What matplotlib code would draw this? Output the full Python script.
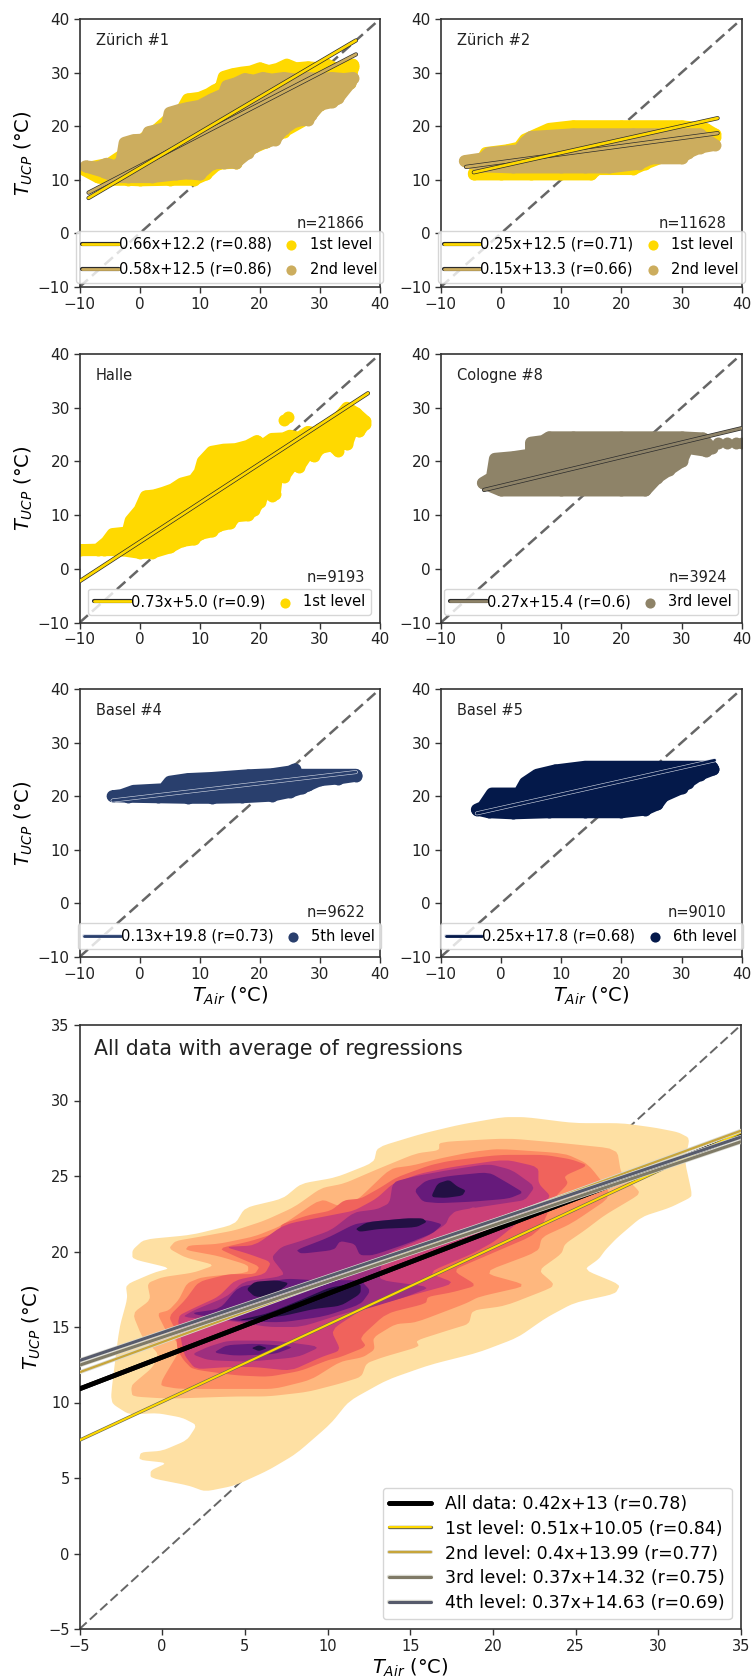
"""
Six station scatter panels with regression lines, and one density panel of all data.
Clouds and density bands are outlines read off the picture.
"""
import numpy as np
import matplotlib; matplotlib.use("Agg")
import matplotlib.pyplot as plt
import matplotlib.patheffects as pe

W, H = 751, 1677

# ── Colours ───────────────────────────────────────────────────────────────────
GOLD = "#ffd900"
TAN = "#ccad5e"
TAUPE = "#8e8368"
NAVY = "#293f6d"
DEEP = "#04194a"
DASH = "#666666"

# ── Scatter clouds: upper then lower outline as (x, y) ─────────────────────────
z1_first_up = [(-9.5,12),(-7,12.6),(-5,13),(-3,14.5),(-1,16),(1,18),(3,19.5),(5,21.5),(7,23),(8,25),(10,25.3),(11.5,26),(12.5,26.7),(13.5,27.2),(14,29.2),(15.5,29.7),(17,30),(18.5,30.2),(20,30.8),(21.5,30.3),(23,30.7),(24.5,31.5),(26,30.8),(28,31),(30,30.8),(31,31.6),(32.5,30.8),(34,31),(35.5,31.5)]
z1_first_lo = [(35.5,31),(35,28),(32,25),(30,24),(28,21.5),(24,19),(21,17),(18,15.5),(16,13.2),(13,13),(11,11),(9,10),(5,10),(0,9.9),(-2,10),(-5,10),(-7,10.5)]
z1_second_up = [(-9,12.5),(-7,12.3),(-5.5,13),(-4,12.5),(-3,13.5),(-2.5,16.9),(-1,17.4),(0.5,17.5),(1,17.6),(1.5,18.9),(3,19.3),(4.5,19.8),(5,22.5),(6.5,23),(8,23.4),(10,23.8),(12,25),(14,26),(14.5,27.5),(16,28),(17.5,28.8),(19,28.5),(20.5,29),(22,28.7),(24,29),(26,28.7),(28,29),(30,28.8),(32,29),(34,28.8),(35.5,29)]
z1_second_lo = [(35,28),(33,25.2),(32,24.5),(30,24),(28.5,22),(28,21.2),(26,21),(24,19.5),(22.5,17.5),(21,17),(19,16.2),(18,15),(16,13.2),(14,13.2),(12,13),(10,11),(8,11.2),(6,11),(2,10.5),(-2,10.5),(-4,10.5),(-6,11.5)]

z2_first_up = [(-4.5,11.2),(-3,14),(-2.5,15),(1,15.5),(3,16),(4,17.5),(6,18.5),(8,19.5),(12,20),(20,20),(30,20),(34,19.5),(35.5,18.5)]
z2_first_lo = [(35.5,18),(24,13),(22,12),(16,12),(15,11),(10,11),(5,11),(0,11),(-4.5,11)]
z2_second_up = [(-6,13.5),(-3,14),(-2,15),(3,15.5),(4,17),(5,18),(8,18.2),(12,18.5),(22,18.5),(33,18.5),(35.5,16.5)]
z2_second_lo = [(33,16),(31,15),(30,14),(25,14),(23,13),(18,12.3),(14,12.3),(10,12.3),(2,12.3),(-3,12.5)]

halle_up = [(-10,3.5),(-7,3.6),(-5.5,5),(-4.5,6.5),(-2,6.8),(-1.5,9),(0,11),(1,13.5),(2.5,13.7),(4,14.2),(5.5,14.8),(7,15.9),(9,16.5),(10,18),(10.5,20),(12,21.8),(14,22.2),(16,22.3),(18,22.9),(19.5,23.8),(20.5,23),(22,24.2),(24,24.3),(25,24.8),(26.5,24.4),(28,25.5),(29.5,25.2),(30,26),(31.5,26.2),(33,28),(34.5,30),(36,29),(37.5,27.5)]
halle_lo = [(37.5,27),(36.5,25.6),(35.5,26.3),(34.5,23.2),(33.5,24.5),(33,22),(32,23),(30,22.5),(29,21),(28,21.5),(26.5,19),(25.5,19.5),(24,17.2),(23,18.5),(22.5,14),(21,14.5),(20,12.5),(19,11),(18,10),(16,9.8),(15,8.5),(13,8),(12,7),(10,6.5),(9,5.5),(7,5.2),(5,4),(2,3),(0,3),(-3,3.5),(-6,3.5)]
halle_extra = [(24,27.8),(24.7,28.2),(22,13.5)]

cologne_up = [(-3,16),(-1.5,17),(-1,20.5),(2,20.8),(5,21.3),(5,23.5),(7,23.8),(8,24.5),(12,24.5),(20,24.5),(30,24.5),(33.5,24.3),(35,22.5)]
cologne_lo = [(34,22),(31,22.5),(30,20),(28,18.5),(26,17),(24,14.6),(20,14.6),(10,14.6),(0,14.6)]
cologne_extra = [(36,23.5),(37.5,23.5),(39,23.5),(40,23.5)]

basel4_up = [(-4.5,20),(-3,20.2),(-1,21),(4,21.3),(5,22.7),(8,23.2),(12,23.4),(18,23.9),(22,24.1),(25,24.6),(25.8,25),(26,24),(30,24),(34,24),(36,24)]
basel4_lo = [(36,23.8),(33,23.3),(30,23),(28,22),(27,21.5),(25,20.8),(22,20.1),(17,19.8),(12,19.7),(8,19.7),(3,19.8),(-2,19.9)]

basel5_up = [(-4,17.5),(-3,18),(-1.5,20.5),(3,20.5),(4,22.5),(6,24),(9,24.8),(14,25.5),(20,25.5),(30,25.5),(35,25.5),(35.3,25)]
basel5_lo = [(33,24),(31,22.5),(30,21.5),(27,20),(26,18.5),(24,17.5),(20,17),(14,17),(8,17),(2,16.8),(-2,17)]

# ── Regression lines: x0, y0, x1, y1 ───────────────────────────────────────────
z1_first_line = [-8.5, 6.6, 36, 36.0]
z1_second_line = [-8.5, 7.6, 36, 33.4]
z2_first_line = [-4.5, 11.4, 36, 21.5]
z2_second_line = [-5.8, 12.4, 36, 18.7]
halle_line = [-10, -2.3, 38, 32.7]
cologne_line = [-2.8, 14.7, 40, 26.2]
basel4_line = [-4.5, 19.2, 36, 24.5]
basel5_line = [-4, 16.8, 35.5, 26.7]

all_line = [-5, 10.9, 35, 27.7]
first_line = [-5, 7.5, 35, 27.9]
second_line = [-5, 12.0, 35, 28.0]
third_line = [-5, 12.47, 35, 27.27]
fourth_line = [-5, 12.78, 35, 27.58]

# ── Density bands, palest first ────────────────────────────────────────────────
band_colors = ["#fee0a3", "#feb77e", "#fd8d63", "#f0635c", "#cb4077", "#9e2f7f", "#661a7b", "#231044"]

band1 = [(-3.1,10.5),(-2.6,14.9),(-2.1,16.9),(-2.2,17.8),(-0.5,18.6),(0.5,18.9),(-1.8,19.5),(-1.8,20.1),(-1.1,20.8),(1.8,21.1),(4.4,21.8),(5,22.9),(7.3,23.5),(8.4,24.5),(10.5,24.9),(12.8,25.9),(13,26.9),(15.7,27.8),(18,28.4),(20.6,28.9),(22,28.9),(24.9,28.5),(27.8,28.5),(29.8,28.2),(31.2,27.9),(31.9,27.5),(31.6,26),(32,24),(32,23.6),(30.7,22.9),(29,22.3),(27.5,20.9),(26.8,20.1),(26.4,19.5),(25.5,18.8),(27.7,17.8),(27.4,17.2),(24.9,16.6),(23.2,15.6),(21.5,14.3),(19.1,13.3),(16.2,12.5),(13.6,11.5),(11.3,10.1),(10.2,8.6),(8.1,6.6),(6.4,5.5),(4.4,4.5),(2.6,4.1),(1.6,4.5),(-0.7,5),(-0.7,5.5),(0.3,6),(-1.4,6.2),(-1.3,6.7),(0,6.8),(1.5,7.5),(2.1,8.5),(1.2,9),(-0.3,9.3),(-2,9.2),(-3,9.9)]
band1_dot = [(5.4,5.9),(5.8,6.2),(6,6),(5.6,5.7)]
band2 = [(-1.87,10.9),(-1.8,10.4),(0.4,10.25),(4.4,10.4),(6.4,10.4),(8.8,10.7),(10.75,11.25),(12.05,11.7),(12.35,12.6),(13.35,13),(15.55,13.7),(15.35,14.1),(17.35,14.8),(18.55,15.2),(18.75,16.1),(20.75,16.4),(23.55,17.6),(23.65,17.9),(22.75,18.75),(24.15,19.85),(24.35,20.5),(25.55,21.4),(26.75,22.4),(28.75,23.7),(28.85,24),(27.75,25.15),(27.5,26.8),(24,27.2),(20.9,27.5),(16.75,27.25),(16.75,26.7),(15.35,26.5),(12.9,25.4),(11,24.5),(9.6,24.2),(8,22.95),(6.2,22.05),(4.4,21.4),(2.4,21),(0.8,20.7),(0.4,20.2),(1.4,19.6),(3.2,19.1),(1.9,18.6),(0,18.3),(-0.9,17.9),(-0.7,16.8),(-1.8,15.9),(-1.2,14.3),(-0.2,13.2),(-0.6,12.3),(-1.8,11.2)]
band3 = [(-0.07,11.1),(1.03,10.9),(4.83,10.9),(6.8,10.9),(9,11.5),(10.75,12.7),(12.15,13),(12.85,13.5),(12.75,14.3),(14.1,15.2),(15.35,15.3),(18.35,16.55),(19.15,17),(22.15,17.75),(19.35,18.6),(22.75,20),(22.95,20.95),(24.75,21.85),(27.25,23.7),(25.75,25.8),(24.35,26.5),(20.35,26.8),(18.75,26.6),(16.75,26.15),(15.15,25.7),(13.8,25.5),(11.8,23.4),(10.8,22.95),(9.6,23.5),(7.2,21.7),(5.6,21),(3.4,20.5),(1.6,20.4),(1.4,20.1),(3.4,19.7),(5.2,19.1),(5.2,18.6),(2.4,18.3),(1.5,17.9),(1,16.8),(0.4,16.1),(-0.3,15.9),(0.3,14.6),(1.2,13.7),(0,11.5)]
band4 = [(0.93,13.45),(1.3,12.8),(1.83,12.2),(4.43,11.8),(6.43,11.7),(8.4,12.1),(10,12.8),(10.75,13),(12.35,13.7),(11.95,14.3),(13.55,15.9),(15.95,16.55),(16.05,17),(17.55,17.3),(19.05,17.75),(17.55,18.75),(19.35,19.6),(22.75,21.2),(23.75,23.6),(24.55,24.5),(24.3,25),(25.75,25.7),(24.75,26.1),(23.15,26.4),(20.35,26.4),(17.35,26),(16.15,25.7),(14.15,24.9),(13.15,24.2),(12,23.5),(11,23.4),(10.2,22.7),(8.8,22.4),(7.2,21.8),(7.1,21.3),(5.4,20.7),(3.4,20.2),(4.6,19.6),(5.9,19),(5.6,18.5),(4,18.5),(2.2,18),(1.4,16.8),(0.4,15.7),(0.8,14.8)]
band5 = [(1.3,13.2),(2,12.2),(4,12.35),(5.6,12.35),(7.8,12.1),(9.6,13),(10.8,13.45),(10.2,14.8),(12.15,16.2),(14.75,17),(17.75,17.9),(16.05,18.6),(18.75,19.85),(20.15,20.7),(21.95,22.3),(23.55,23.6),(22.75,24.5),(22.75,25.6),(20.75,26.1),(17.55,25.6),(15.55,25.15),(13.95,24.5),(12.95,23.5),(11.6,22.7),(10.2,22.4),(7.4,21.8),(5.6,20.4),(3.8,20.3),(5.2,19.85),(6.6,19.3),(6.2,18.5),(4.4,18.1),(3.4,17),(2,16.3),(0.9,15.7)]
band6 = [(1.2,15.65),(1.9,16.1),(3.9,17),(4.9,18),(6.9,18.3),(7.4,18.5),(6.6,19.6),(7.2,20.3),(8.4,20.7),(10.2,21.4),(11.6,22.6),(13,22.8),(13.75,23.2),(13.95,24.6),(15.35,25),(17.35,25.4),(19.75,25.8),(21.15,25.4),(22.55,24.3),(21.95,23.4),(20.75,23.2),(17.75,22.7),(17.35,22.3),(17.15,21.8),(15.95,20.95),(13.55,19.85),(13.2,18.9),(13.15,18.1),(16.25,17.65),(14.75,17),(12.35,16.2),(11,15.9),(8.4,15),(6.4,15),(4.2,15.4)]
band6_low = [(1.8,13.2),(2.8,13.7),(4,14.1),(6.8,14.1),(9.6,13.7),(8.2,13),(5.2,12.7),(2.8,12.8)]
band6_spot = [(18.4,22.7),(18.8,22.95),(19.2,22.75),(18.8,22.55)]
band7_main = [(1.6,15.9),(3.5,16.2),(4.6,17.65),(6.4,18),(7.6,18.2),(9.2,18.1),(12,18.1),(12.6,17.4),(12,16.5),(9.8,15.7),(7.2,15.3),(4.4,15.4)]
band7_mid = [(8.1,20.1),(10,20.9),(11.6,21.8),(12.4,21.95),(14.8,22.2),(16.15,22.05),(16.95,21.8),(16.35,21.2),(14.75,20.5),(12.75,19.75),(11.95,19.75),(11.65,20.5),(10.75,20.7),(10.4,20.1),(8.4,19.85)]
band7_top = [(15.25,24.05),(15.95,24.7),(17.35,25),(19.75,25.26),(20.95,24.5),(21.85,23.9),(20.95,23.5),(18.75,23.3),(16.75,23.2),(15.75,23.3)]
band7_low = [(3.1,13.3),(3.9,13.8),(5.6,13.9),(8,13.7),(6.8,13.2),(4.4,13.1)]
band7_spot = [(8.2,19),(8.7,19.25),(9.3,19.3),(8.9,19),(8.4,18.85)]
band8_a = [(5.1,17.5),(5.6,18),(6.9,18.1),(7.7,17.9),(6.6,17),(5.6,17)]
band8_b = [(4.4,15.4),(6.4,15.9),(8.4,16.8),(10.2,17.65),(12,17.9),(12,17.2),(10.8,16.4),(9.2,16.2),(7.2,15.7)]
band8_c = [(11.7,21.5),(12.4,21.95),(14.8,22.2),(15.75,22.2),(16,21.95),(15.35,21.6),(13.15,21.5),(11.95,21.3)]
band8_d = [(16.25,23.6),(16.65,24.5),(17.35,24.75),(17.85,24.3),(18.35,24.05),(18.15,23.7),(17.15,23.55)]
band8_e = [(5.4,13.6),(5.85,13.8),(6.35,13.6),(5.85,13.4)]

# ── Axes placement in pixels: left, top, right, bottom ─────────────────────────
COL_L = (79.5, 380)
COL_R = (440.7, 741.7)
ROWS = [(19, 287), (354, 622.7), (689, 957)]
BIG = (79.5, 1025, 741, 1629)

DOT = 8.6    # scatter marker diameter in points


def make_ax(fig, l, t, r, b):
    ax = fig.add_axes([l / W, 1 - b / H, (r - l) / W, (b - t) / H])
    for s in ax.spines.values():
        s.set_linewidth(1.2)
        s.set_color("#333333")
    ax.tick_params(labelsize=11, length=4, width=1.0, color="#333333", labelcolor="#222222", pad=3)
    return ax


def chaikin(pts, n=2):
    # round off the corners of a closed outline, keeping its extent
    p = np.array(pts, dtype=float)
    for _ in range(n):
        q = np.roll(p, -1, axis=0)
        p = np.column_stack([0.85 * p + 0.15 * q, 0.15 * p + 0.85 * q]).reshape(-1, 2)
    return p


def cloud(ax, up, lo, color, label, extra=()):
    pts = np.array(list(up) + list(lo) + list(extra), dtype=float)
    outline = np.array(list(up) + list(lo), dtype=float)
    ax.fill(outline[:, 0], outline[:, 1], fc=color, ec=color, lw=DOT, joinstyle="round", zorder=2)
    return ax.scatter(pts[:, 0], pts[:, 1], s=DOT ** 2, color=color, lw=0, zorder=2, label=label)


def reg(ax, seg, color, edge, label, lw=2.0, ew=3.0, z=4):
    h, = ax.plot([seg[0], seg[2]], [seg[1], seg[3]], color=color, lw=lw, label=label, zorder=z,
                 solid_capstyle="round",
                 path_effects=[pe.Stroke(linewidth=ew, foreground=edge), pe.Normal()])
    return h


def finish_small(ax, name, count, handles, n_y):
    ax.plot([-10, 40], [-10, 40], color=DASH, ls=(0, (4.5, 2.2)), lw=1.8, zorder=1)
    ax.set_xlim(-10, 40)
    ax.set_ylim(-10, 40)
    ax.set_xticks([-10, 0, 10, 20, 30, 40])
    ax.set_yticks([-10, 0, 10, 20, 30, 40])
    ax.text(-7.3, 36, name, fontsize=10.5, color="#222222", va="center")
    ax.text(37.5, n_y, count, fontsize=10.5, color="#222222", va="center", ha="right")
    anchor_y = 0.016 if len(handles) == 4 else 0.028
    ax.legend(handles=handles, ncol=2, fontsize=10.5, loc="lower center", bbox_to_anchor=(0.5, anchor_y),
              handlelength=2.5, handletextpad=0.0, columnspacing=0.1, borderpad=0.4, labelspacing=0.7,
              markerscale=0.85, borderaxespad=0.0, framealpha=0.8)


fig = plt.figure(figsize=(W / 100, H / 100), dpi=100)
DARK = "#2b2b2b"

# ── Zürich #1 ──────────────────────────────────────────────────────────────────
ax = make_ax(fig, COL_L[0], ROWS[0][0], COL_L[1], ROWS[0][1])
s1 = cloud(ax, z1_first_up, z1_first_lo, GOLD, "1st level")
s2 = cloud(ax, z1_second_up, z1_second_lo, TAN, "2nd level")
l2 = reg(ax, z1_second_line, TAN, DARK, "0.58x+12.5 (r=0.86)")
l1 = reg(ax, z1_first_line, GOLD, DARK, "0.66x+12.2 (r=0.88)")
finish_small(ax, "Zürich #1", "n=21866", [l1, l2, s1, s2], 1.9)
ax.set_ylabel(r"$T_{UCP}$ (°C)", fontsize=14, labelpad=2)

# ── Zürich #2 ──────────────────────────────────────────────────────────────────
ax = make_ax(fig, COL_R[0], ROWS[0][0], COL_R[1], ROWS[0][1])
s1 = cloud(ax, z2_first_up, z2_first_lo, GOLD, "1st level")
s2 = cloud(ax, z2_second_up, z2_second_lo, TAN, "2nd level")
l2 = reg(ax, z2_second_line, TAN, DARK, "0.15x+13.3 (r=0.66)")
l1 = reg(ax, z2_first_line, GOLD, DARK, "0.25x+12.5 (r=0.71)")
finish_small(ax, "Zürich #2", "n=11628", [l1, l2, s1, s2], 1.9)

# ── Halle ──────────────────────────────────────────────────────────────────────
ax = make_ax(fig, COL_L[0], ROWS[1][0], COL_L[1], ROWS[1][1])
s1 = cloud(ax, halle_up, halle_lo, GOLD, "1st level", halle_extra)
l1 = reg(ax, halle_line, GOLD, DARK, "0.73x+5.0 (r=0.9)")
finish_small(ax, "Halle", "n=9193", [l1, s1], -1.6)
ax.set_ylabel(r"$T_{UCP}$ (°C)", fontsize=14, labelpad=2)

# ── Cologne #8 ─────────────────────────────────────────────────────────────────
ax = make_ax(fig, COL_R[0], ROWS[1][0], COL_R[1], ROWS[1][1])
s1 = cloud(ax, cologne_up, cologne_lo, TAUPE, "3rd level", cologne_extra)
l1 = reg(ax, cologne_line, TAUPE, DARK, "0.27x+15.4 (r=0.6)")
finish_small(ax, "Cologne #8", "n=3924", [l1, s1], -1.6)

# ── Basel #4 ───────────────────────────────────────────────────────────────────
ax = make_ax(fig, COL_L[0], ROWS[2][0], COL_L[1], ROWS[2][1])
s1 = cloud(ax, basel4_up, basel4_lo, NAVY, "5th level")
l1 = reg(ax, basel4_line, NAVY, "#d8dde8", "0.13x+19.8 (r=0.73)", lw=2.0, ew=2.8)
finish_small(ax, "Basel #4", "n=9622", [l1, s1], -1.7)
ax.set_ylabel(r"$T_{UCP}$ (°C)", fontsize=14, labelpad=2)
ax.set_xlabel(r"$T_{Air}$ (°C)", fontsize=14, labelpad=2)

# ── Basel #5 ───────────────────────────────────────────────────────────────────
ax = make_ax(fig, COL_R[0], ROWS[2][0], COL_R[1], ROWS[2][1])
s1 = cloud(ax, basel5_up, basel5_lo, DEEP, "6th level")
l1 = reg(ax, basel5_line, DEEP, "#d8dde8", "0.25x+17.8 (r=0.68)", lw=2.0, ew=2.8)
finish_small(ax, "Basel #5", "n=9010", [l1, s1], -1.7)
ax.set_xlabel(r"$T_{Air}$ (°C)", fontsize=14, labelpad=2)

# ── All data ───────────────────────────────────────────────────────────────────
ax = make_ax(fig, *BIG)
ax.plot([-5, 35], [-5, 35], color=DASH, ls=(0, (5, 2.2)), lw=1.4, zorder=1)
bands = [[band1, band1_dot], [band2], [band3], [band4], [band5], [band6, band6_low], [band7_main, band7_mid, band7_top, band7_low], [band8_a, band8_b, band8_c, band8_d, band8_e]]
for color, parts in zip(band_colors, bands):
    for part in parts:
        p = chaikin(part)
        ax.fill(p[:, 0], p[:, 1], color=color, lw=0, zorder=2)
p = chaikin(band6_spot)
ax.fill(p[:, 0], p[:, 1], color=band_colors[4], lw=0, zorder=2)
p = chaikin(band7_spot)
ax.fill(p[:, 0], p[:, 1], color=band_colors[5], lw=0, zorder=2)

PALE = "#d9d9d0"
h0 = reg(ax, all_line, "black", "black", "All data: 0.42x+13 (r=0.78)", lw=3.4, ew=3.4, z=3)
h1 = reg(ax, first_line, GOLD, "#6a6a50", "1st level: 0.51x+10.05 (r=0.84)", lw=1.5, ew=2.4, z=4)
h2 = reg(ax, second_line, "#c7a53a", PALE, "2nd level: 0.4x+13.99 (r=0.77)", lw=1.6, ew=2.8, z=5)
h3 = reg(ax, third_line, "#7f7a66", PALE, "3rd level: 0.37x+14.32 (r=0.75)", lw=2.2, ew=3.2, z=6)
h4 = reg(ax, fourth_line, "#575b6c", PALE, "4th level: 0.37x+14.63 (r=0.69)", lw=2.2, ew=3.2, z=7)
ax.set_xlim(-5, 35)
ax.set_ylim(-5, 35)
ax.set_xticks(range(-5, 36, 5))
ax.set_yticks(range(-5, 36, 5))
ax.tick_params(labelsize=10.5)
ax.text(-4.15, 33.4, "All data with average of regressions", fontsize=14.8, color="#222222", va="center")
ax.set_xlabel(r"$T_{Air}$ (°C)", fontsize=14, labelpad=2.5)
ax.set_ylabel(r"$T_{UCP}$ (°C)", fontsize=14, labelpad=4)
ax.legend(handles=[h0, h1, h2, h3, h4], fontsize=12.5, loc="lower right", bbox_to_anchor=(0.986, 0.016),
          borderaxespad=0.0, handlelength=2.4, labelspacing=0.4, framealpha=0.8)

fig.savefig("out.png", dpi=100)
plt.close()
